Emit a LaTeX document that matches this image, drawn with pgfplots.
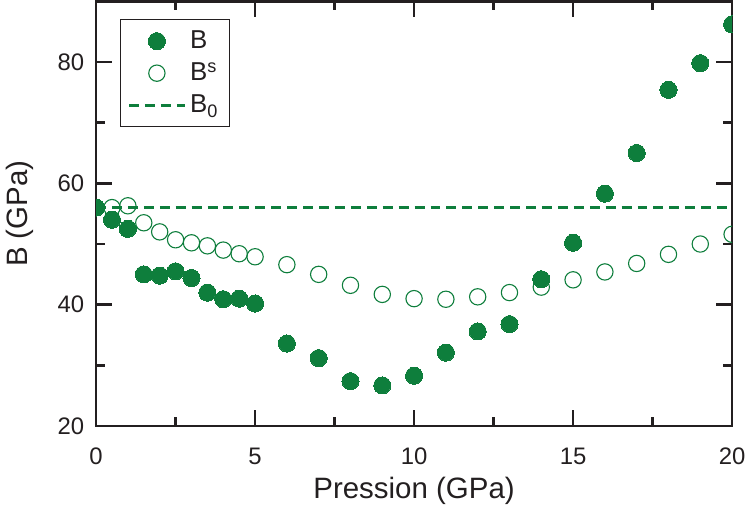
\documentclass[border=0pt]{standalone}
\usepackage{fontspec}
\setmainfont{Liberation Sans}
\usepackage{pgfplots}
\pgfplotsset{compat=1.18}
\definecolor{dg}{HTML}{0E7E3C}
\definecolor{axc}{HTML}{231F20}
\pgfplotsset{
  mylegmark/.style={legend image code/.code={\draw[mark repeat=2,mark phase=2,#1] plot coordinates {(0pt,0pt) (14pt,0pt) (28pt,0pt)};}},
  mylegline/.style={legend image code/.code={\draw[#1] (0pt,0pt) -- (28pt,0pt);}},
  every tick/.style={line width=1.3pt, color=axc},
  every axis/.append style={line width=1.3pt},
}
\begin{document}
\begin{tikzpicture}
\begin{axis}[
  width=319.5pt, height=213.4pt, scale only axis,
  xmin=0, xmax=20, ymin=20, ymax=90,
  xtick={0,5,10,15,20}, ytick={20,40,60,80},
  xticklabels={0,5,10,15,20}, yticklabels={20,40,60,80},
  minor xtick={2.5,7.5,12.5,17.5}, minor ytick={30,50,70},
  xtick pos=both, ytick pos=both,
  tick align=inside,
  major tick length=8pt, minor tick length=4.5pt,
  axis line style={line width=1.3pt, color=axc},
  clip marker paths=true,
  tick label style={font=\fontsize{12}{14}\selectfont, text=axc},
  xticklabel style={yshift=-7pt},
  yticklabel style={xshift=-2pt},
  xlabel={Pression (GPa)}, ylabel={B (GPa)},
  label style={font=\fontsize{14.8}{17}\selectfont, text=axc},
  xlabel style={yshift=1pt},
  ylabel style={yshift=4.5pt},
  legend style={at={(rel axis cs:0,1)}, anchor=north west, xshift=12pt, yshift=-9pt,
    draw=axc, line width=0.6pt, font=\fontsize{13}{15}\selectfont, text=axc,
    row sep=1.5pt, inner sep=3.5pt},
  legend cell align=left,
]
\addplot[only marks, mark=*, mark size=4.3pt, color=dg, mark options={fill=dg, draw=dg, line width=0pt}, mylegmark] coordinates {
(0,56.0) (0.5,54.0) (1,52.5) (1.5,45.0) (2,44.8) (2.5,45.5) (3,44.4) (3.5,42.0) (4,40.9) (4.5,41.0) (5,40.2)
(6,33.6) (7,31.2) (8,27.4) (9,26.7) (10,28.3) (11,32.1) (12,35.6) (13,36.8) (14,44.2) (15,50.2)
(16,58.3) (17,65.0) (18,75.4) (19,79.8) (20,86.2)};
\addlegendentry{B}
\addplot[only marks, mark=o, mark size=4.1pt, color=dg, mark options={draw=dg, fill=white, line width=0.55pt}, mylegmark] coordinates {
(0.5,56.0) (1,56.3) (1.5,53.5) (2,52.0) (2.5,50.7) (3,50.2) (3.5,49.7) (4,49.0) (4.5,48.4) (5,47.9)
(6,46.6) (7,45.0) (8,43.2) (9,41.7) (10,41.0) (11,40.9) (12,41.3) (13,42.0) (14,42.9) (15,44.1)
(16,45.4) (17,46.8) (18,48.3) (19,50.0) (20,51.6)};
\addlegendentry{B\textsuperscript{s}}
\addplot[color=dg, line width=1.5pt, dash pattern=on 5pt off 3pt, mylegline] coordinates {(0,56) (20,56)};
\addlegendentry{B\textsubscript{0}}
\end{axis}
\end{tikzpicture}
\end{document}
